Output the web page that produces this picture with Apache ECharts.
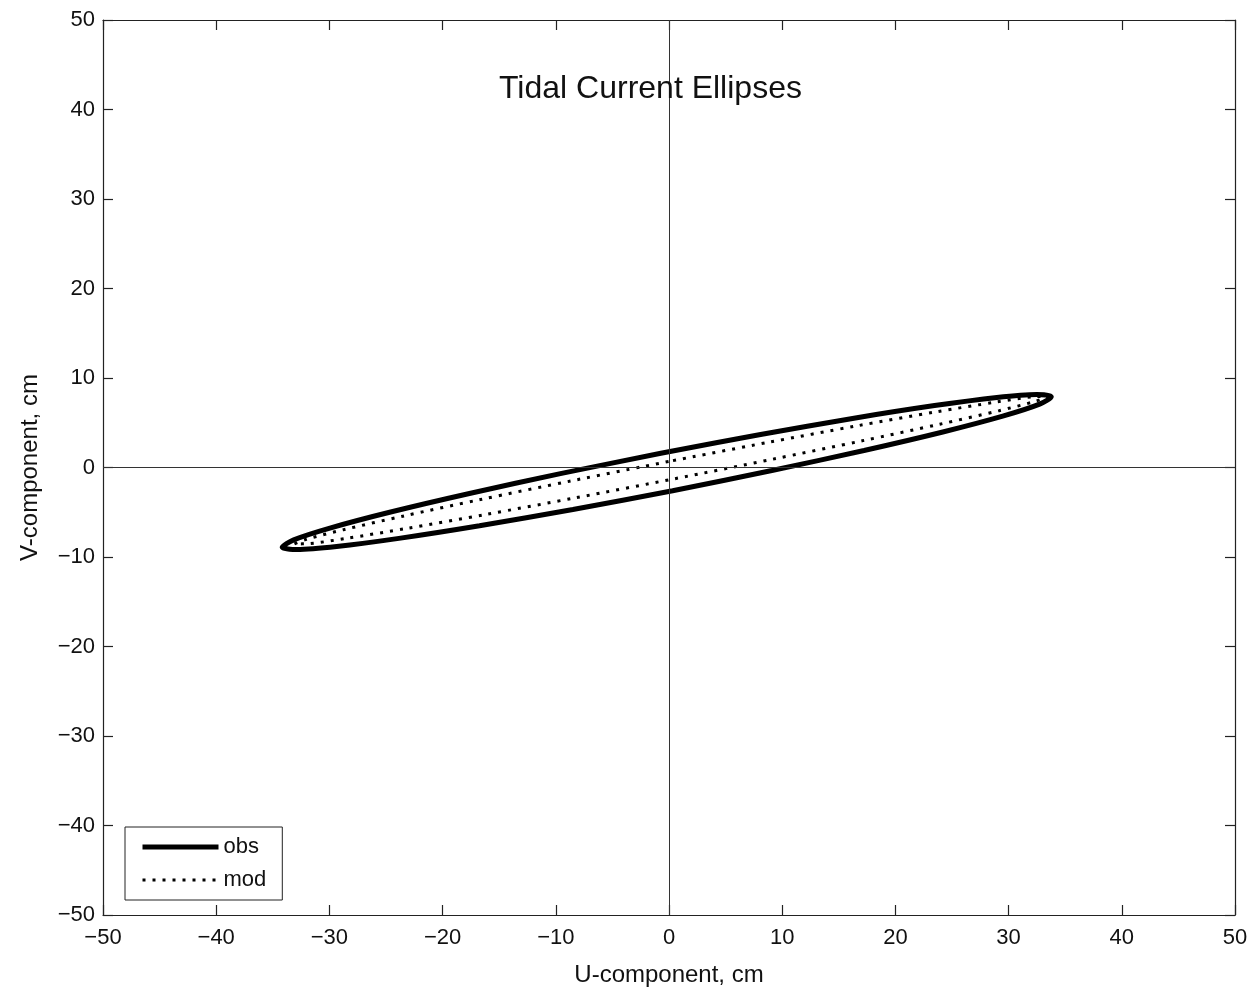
<!DOCTYPE html>
<html>
<head>
<meta charset="utf-8">
<script src="https://cdn.jsdelivr.net/npm/echarts@6/dist/echarts.min.js"></script>
<style>html,body{margin:0;padding:0;background:#fff;}#c{width:1253px;height:992px;}</style>
</head>
<body>
<div id="c"></div>
<script>
const obsU = [-0.72, -9.49, -17.63, -24.59, -29.88, -33.15, -34.17, -32.88, -29.36, -23.86, -16.74, -8.49, 0.32, 9.09, 17.23, 24.19, 29.48, 32.74, 33.77, 32.48, 28.96, 23.46, 16.34, 8.09, -0.72];
const obsV = [1.59, -0.66, -2.90, -4.97, -6.74, -8.08, -8.91, -9.16, -8.83, -7.92, -6.51, -4.69, -2.59, -0.34, 1.90, 3.97, 5.74, 7.08, 7.91, 8.16, 7.83, 6.92, 5.51, 3.69, 1.59];
// Modelled ellipse outline
const modU = [-0.04, -8.65, -16.66, -23.52, -28.76, -32.02, -33.10, -31.90, -28.52, -23.18, -16.24, -8.19, 0.44, 9.05, 17.06, 23.92, 29.16, 32.42, 33.50, 32.30, 28.92, 23.58, 16.64, 8.59, -0.04];
const modV = [0.67, -1.50, -3.58, -5.44, -6.95, -8.01, -8.54, -8.51, -7.92, -6.81, -5.26, -3.37, -1.27, 0.90, 2.98, 4.84, 6.35, 7.41, 7.94, 7.91, 7.32, 6.21, 4.66, 2.77, 0.67];
const axisMin = -50, axisMax = 50, axisStep = 10;
const seriesNames = ['obs', 'mod'];
const titleText = 'Tidal Current Ellipses';
const xName = 'U-component, cm';
const yName = 'V-component, cm';

const FONT = '"Liberation Sans", Arial, Helvetica, sans-serif';
const zip = (a, b) => a.map((v, i) => [v, b[i]]);
const fmt = v => String(v).replace('-', '\u2212');
const lineCol = '#222';

const chart = echarts.init(document.getElementById('c'), null, {renderer: 'canvas'});

function mkAxis(type, pos, show, name) {
  return {
    type: 'value', position: pos, min: axisMin, max: axisMax, interval: axisStep,
    name: name || '', nameLocation: 'middle',
    nameGap: type === 'x' ? 48 : 61,
    nameRotate: type === 'y' ? 90 : 0,
    nameTextStyle: {fontFamily: FONT, fontSize: 24, color: '#111'},
    axisLine: {show: true, onZero: false, lineStyle: {color: lineCol, width: 1.2}},
    axisTick: {show: true, inside: true, length: 10, lineStyle: {color: lineCol, width: 1.2}},
    axisLabel: {show: show, fontFamily: FONT, fontSize: 22, color: '#111', margin: type === 'x' ? 12 : 8, formatter: fmt},
    splitLine: {show: false}
  };
}

chart.setOption({
  animation: false,
  backgroundColor: '#fff',
  title: {text: titleText, left: 494, top: 68, textStyle: {fontFamily: FONT, fontSize: 32, fontWeight: 'normal', color: '#111'}},
  grid: {left: 103, right: 18, top: 20, bottom: 71, containLabel: false},
  xAxis: [mkAxis('x', 'bottom', true, xName), mkAxis('x', 'top', false)],
  yAxis: [mkAxis('y', 'left', true, yName), mkAxis('y', 'right', false)],
  legend: {
    orient: 'vertical', left: 125, top: 827,
    data: seriesNames,
    backgroundColor: '#fff', borderColor: '#222', borderWidth: 1, borderRadius: 0,
    padding: [9, 16, 9, 15], itemWidth: 76, itemHeight: 14, itemGap: 11,
    textStyle: {fontFamily: FONT, fontSize: 22, color: '#111', lineHeight: 22},
    itemStyle: {opacity: 0},
    lineStyle: {width: 'inherit', type: 'inherit', color: '#000'}
  },
  series: [
    {
      name: seriesNames[0], type: 'line', data: zip(obsU, obsV), smooth: 0.3,
      symbol: 'none', lineStyle: {color: '#000', width: 5}, itemStyle: {color: '#000'},
      z: 3,
      markLine: {
        silent: true, symbol: 'none', label: {show: false},
        lineStyle: {color: '#333', width: 1, type: 'solid'},
        data: [{xAxis: 0}, {yAxis: 0}]
      }
    },
    {
      name: seriesNames[1], type: 'line', data: zip(modU, modV), smooth: 0.3,
      symbol: 'none', lineStyle: {color: '#000', width: 3, type: [3, 7]}, itemStyle: {color: '#000'},
      z: 4
    }
  ]
});
</script>
</body>
</html>
